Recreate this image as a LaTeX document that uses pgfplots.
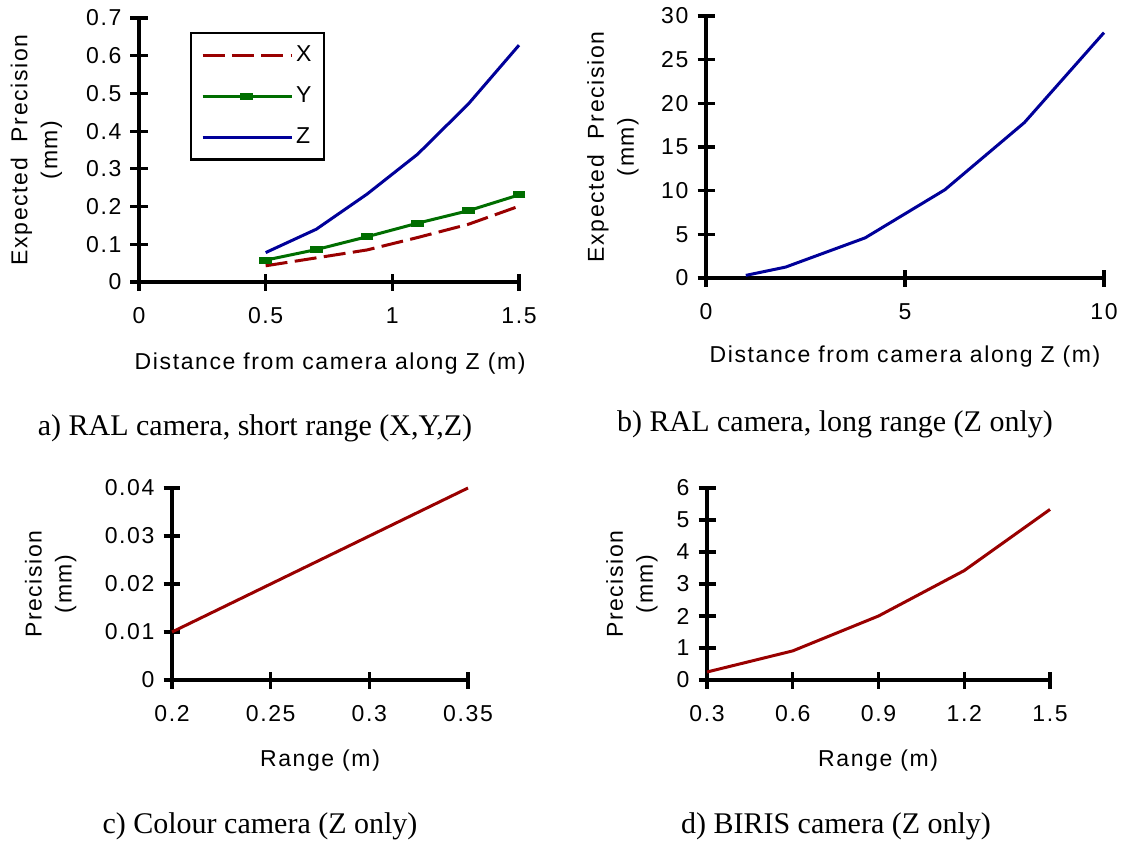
\documentclass[border=0pt]{standalone}
\usepackage{fontspec}
\usepackage{pgfplots}
\pgfplotsset{compat=1.18}
\newfontfamily\chartfont[LetterSpace=7]{Liberation Sans}
\newfontfamily\capfont{Liberation Serif}
\definecolor{xred}{RGB}{153,0,0}
\definecolor{ygreen}{RGB}{0,110,0}
\definecolor{zblue}{RGB}{0,0,153}
\newcommand\cf{\chartfont\fontsize{11.5}{15}\selectfont}
\pgfplotsset{
  panel/.style={
    scale only axis,
    axis lines=left,
    axis line style={-, line width=1.6pt, black},
    tick style={line width=1.6pt, black},
    major tick style={line width=1.6pt, black},
    major tick length=8.5pt,
    tick align=center,
    clip=false,
    font=\cf,
    /pgf/number format/assume math mode=true,
    ticklabel style={font=\cf},
    xticklabel style={yshift=-5pt},
    yticklabel style={xshift=-1pt},
    ylabel style={align=center, anchor=center},
    xlabel style={anchor=center},
  },
  dataline/.style={line width=1.5pt},
}
\begin{document}
\begin{tikzpicture}
\path[use as bounding box] (0,0) rectangle (562.5pt,-420.5pt);

% ---------- a) ----------
\begin{axis}[panel,
  at={(69.5pt,-141pt)}, anchor=south west,
  width=190pt, height=132pt,
  xmin=0, xmax=1.5, ymin=0, ymax=0.7,
  xtick={0,0.5,1,1.5}, ytick={0,0.1,...,0.7},
  yticklabel style={/pgf/number format/fixed},
  ylabel={Expected\ \ Precision\\(mm)},
  ylabel style={at={(axis description cs:-0.27,0.5)}},
  xlabel={Distance\ from\ camera\ along\ Z\ (m)},
  xlabel style={at={(axis description cs:0.503,-0.307)}},
  legend style={at={(axis description cs:0.134,0.947)}, anchor=north west,
    draw=black, line width=1.1pt, inner xsep=5pt, inner ysep=5pt,
    row sep=8pt, font=\cf,
    nodes={inner sep=1.5pt}},
  legend cell align=left,
  legend image code/.code={\draw[mark repeat=2,mark phase=2,#1] plot coordinates {(0pt,0pt) (22pt,0pt) (44.5pt,0pt)};},
]
\addplot[dataline, color=xred, dash pattern=on 11pt off 3.7pt] coordinates {
  (0.5,0.043) (0.7,0.064) (0.9,0.085) (1.1,0.118) (1.3,0.153) (1.5,0.201)};
\addlegendentry{X}
\addplot[dataline, color=ygreen, mark=-, mark size=3.2pt,
  mark options={line width=3.6pt, solid}] coordinates {
  (0.5,0.058) (0.7,0.086) (0.9,0.120) (1.1,0.156) (1.3,0.189) (1.5,0.231)};
\addlegendentry{Y}
\addplot[dataline, color=zblue] coordinates {
  (0.5,0.078) (0.7,0.140) (0.9,0.233) (1.1,0.339) (1.3,0.472) (1.5,0.628)};
\addlegendentry{Z}
\end{axis}

% ---------- b) ----------
\begin{axis}[panel,
  at={(353pt,-139pt)}, anchor=south west,
  width=199pt, height=131pt,
  xmin=0, xmax=10, ymin=0, ymax=30,
  xtick={0,5,10}, ytick={0,5,...,30},
  ylabel={Expected\ \ Precision\\(mm)},
  ylabel style={at={(axis description cs:-0.234,0.5)}},
  xlabel={Distance\ from\ camera\ along\ Z\ (m)},
  xlabel style={at={(axis description cs:0.5,-0.298)}},
]
\addplot[dataline, color=zblue] coordinates {
  (1,0.3) (2,1.25) (4,4.6) (6,10.1) (8,17.8) (10,28.1)};
\end{axis}

% ---------- c) ----------
\begin{axis}[panel,
  at={(86pt,-340pt)}, anchor=south west,
  width=148pt, height=96pt,
  xmin=0.2, xmax=0.35, ymin=0, ymax=0.04,
  xtick={0.2,0.25,0.3,0.35}, ytick={0,0.01,0.02,0.03,0.04},
  xticklabel style={/pgf/number format/fixed, /pgf/number format/precision=2},
  yticklabel style={/pgf/number format/fixed, /pgf/number format/precision=2},
  scaled ticks=false,
  ylabel={Precision\\(mm)},
  ylabel style={at={(axis description cs:-0.41,0.5)}},
  xlabel={Range\ (m)},
  xlabel style={at={(axis description cs:0.5,-0.417)}},
]
\addplot[dataline, color=xred] coordinates {
  (0.2,0.01) (0.25,0.02) (0.3,0.03) (0.35,0.04)};
\end{axis}

% ---------- d) ----------
\begin{axis}[panel,
  at={(353.5pt,-340pt)}, anchor=south west,
  width=171.5pt, height=96pt,
  xmin=0.3, xmax=1.5, ymin=0, ymax=6,
  xtick={0.3,0.6,0.9,1.2,1.5}, ytick={0,1,...,6},
  xticklabel style={/pgf/number format/fixed, /pgf/number format/precision=1},
  ylabel={Precision\\(mm)},
  ylabel style={at={(axis description cs:-0.219,0.5)}},
  xlabel={Range\ (m)},
  xlabel style={at={(axis description cs:0.499,-0.417)}},
]
\addplot[dataline, color=xred] coordinates {
  (0.3,0.25) (0.6,0.91) (0.9,2.0) (1.2,3.42) (1.5,5.33)};
\end{axis}

% ---------- captions ----------
\begin{scope}[every node/.style={font=\capfont\fontsize{15}{18}\selectfont, inner sep=0pt, anchor=center}]
\node at (127.5pt,-214pt) {a) RAL camera, short range (X,Y,Z)};
\node at (417.5pt,-212pt) {b) RAL camera, long range (Z only)};
\node at (130pt,-413pt) {c) Colour camera (Z only)};
\node at (418pt,-413pt) {d) BIRIS camera (Z only)};
\end{scope}
\end{tikzpicture}
\end{document}
